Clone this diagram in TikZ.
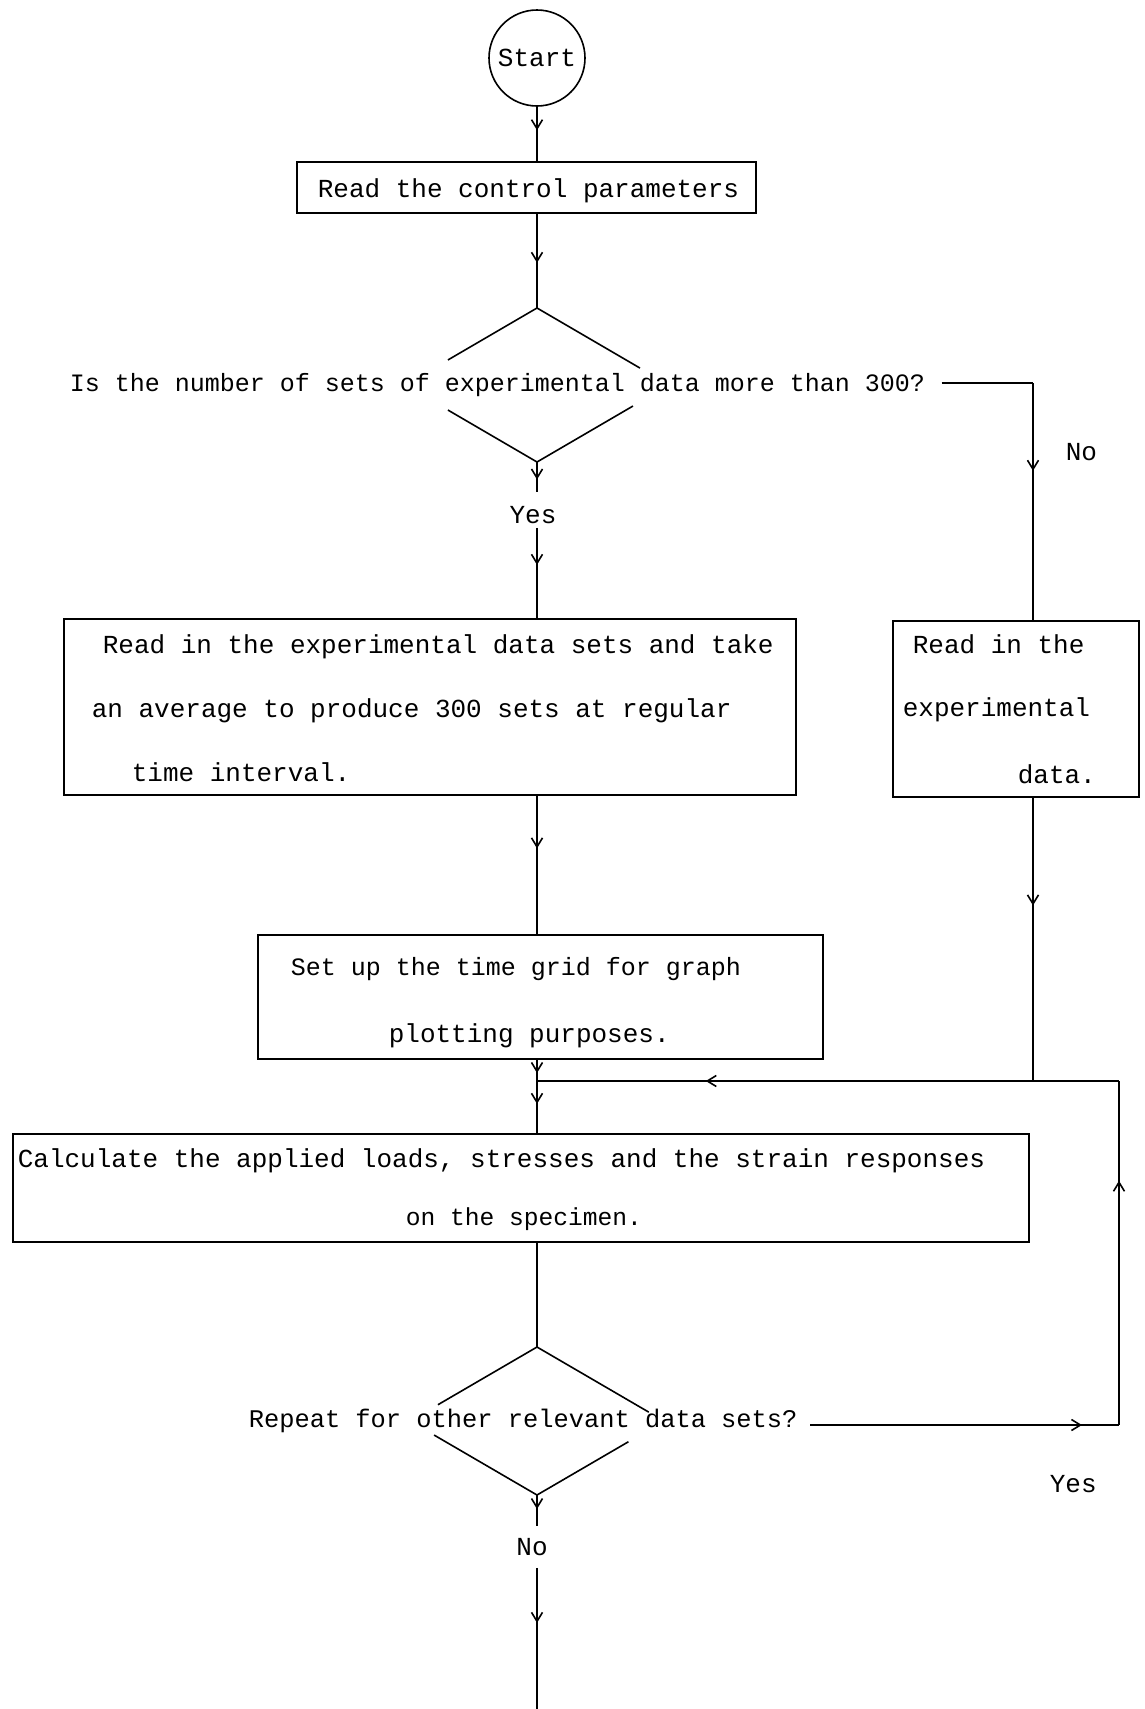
\documentclass[tikz,border=0pt]{standalone}
\usepackage{fontspec}
\setmonofont{Liberation Mono}
\usetikzlibrary{arrows.meta,decorations.markings,calc}

\tikzset{flowtip/.tip={Straight Barb[length=9pt,width=11pt]}}

\begin{document}
\begin{tikzpicture}[x=1pt,y=-1pt,line width=1.6pt,
  tfont/.style={font=\ttfamily\fontsize{#1}{31pt}\selectfont},
  tfont/.default=26pt,
  txt/.style={tfont=#1,inner sep=0pt,anchor=base west},
  txt/.default=26pt,
  procbox/.style={draw,rectangle,inner sep=0pt},
  answer/.style={tfont,inner sep=0pt,anchor=base},
  midarrow/.style={postaction={decorate,decoration={markings,
      mark=at position #1 with {\arrow{flowtip}}}}},
  midarrowtwo/.style 2 args={postaction={decorate,decoration={markings,
      mark=at position #1 with {\arrow{flowtip}},
      mark=at position #2 with {\arrow{flowtip}}}}}
]
\useasboundingbox (0,0) rectangle (1145,1709);
\fill[white] (0,0) rectangle (1145,1709);

% reference lines of the flow
\coordinate (axis)  at (537,0);
\coordinate (raxis) at (1033,0);
\coordinate (c1)    at (1033,383);
\coordinate (jr)    at (1033,1081);
\coordinate (jn)    at (537,1081);
\coordinate (lr1)   at (1119,1425);
\coordinate (lr2)   at (1119,1081);
\coordinate (endpt) at (537,1709);

% start terminal
\node[draw,circle,minimum size=96pt,inner sep=0pt,tfont] (start) at (537,58) {Start};

% process boxes
\node[procbox,minimum width=459pt,minimum height=51pt]  (b1) at (526.5,187.5) {};
\node[procbox,minimum width=732pt,minimum height=176pt] (b2) at (430,707) {};
\node[procbox,minimum width=246pt,minimum height=176pt] (b3) at (1016,709) {};
\node[procbox,minimum width=565pt,minimum height=124pt] (b4) at (540.5,997) {};
\node[procbox,minimum width=1016pt,minimum height=108pt] (b5) at (521,1188) {};

% box texts
\node[txt] (t1)  at (317,197)  {Read the control parameters};
\node[txt] (t2a) at (102,653)  {Read in the experimental data sets and take};
\node[txt] (t2b) at (91,717)   {an average to produce 300 sets at regular};
\node[txt] (t2c) at (131,781)  {time interval.};
\node[txt] (t3a) at (912,653)  {Read in the};
\node[txt] (t3b) at (902,716)  {experimental};
\node[txt] (t3c) at (1017,783) {data.};
\node[txt=25pt] (t4a) at (290,975)  {Set up the time grid for graph};
\node[txt] (t4b) at (388,1042) {plotting purposes.};
\node[txt] (t5a) at (17,1167)  {Calculate the applied loads, stresses and the strain responses};
\node[txt=24.6pt] (t5b) at (405,1225) {on the specimen.};

% decisions: broken diamonds with the question across them
\coordinate (d1n) at (537,308);
\coordinate (d1s) at (537,462);
\coordinate (d1w) at (405,385);
\coordinate (d1e) at (669,385);
\draw (d1n) -- ($(d1n)!0.675!(d1w)$);
\draw (d1n) -- ($(d1n)!0.78!(d1e)$);
\draw (d1s) -- ($(d1s)!0.675!(d1w)$);
\draw (d1s) -- ($(d1s)!0.727!(d1e)$);
\node[txt=25pt] (q1) at (69,391) {Is the number of sets of experimental data more than 300?};

\coordinate (d2n) at (537,1347);
\coordinate (d2s) at (537,1495);
\coordinate (d2w) at (410,1421);
\coordinate (d2e) at (664,1421);
\draw (d2n) -- ($(d2n)!0.78!(d2w)$);
\draw (d2n) -- ($(d2n)!0.88!(d2e)$);
\draw (d2s) -- ($(d2s)!0.81!(d2w)$);
\draw (d2s) -- ($(d2s)!0.72!(d2e)$);
\node[txt=25.4pt] (q2) at (248,1427) {Repeat for other relevant data sets?};

% branch labels
\node[answer,text height=30pt,text depth=4pt]  (yes1) at (533,523)  {Yes};
\node[txt] (no1)  at (1065,460)  {No};
\node[txt] (yes2) at (1049,1492) {Yes};
\node[answer,text height=28pt,text depth=12pt] (no2) at (532,1555) {No};

% connectors
\draw[midarrow=0.43] (start.south) -- (b1.north -| start.south);
\draw[midarrow=0.52] (b1.south -| axis) -- (d1n);
\draw[midarrow=0.58] (d1s) -- (yes1.north -| axis);
\draw[midarrow=0.41] (yes1.south -| axis) -- (b2.north -| axis);
\draw ($(q1.east |- c1)+(16,0)$) -- (c1);
\draw[midarrow=0.37] (c1) -- (b3.north -| c1);
\draw[midarrow=0.38] (b2.south -| axis) -- (b4.north -| axis);
\draw[midarrow=0.38] (b3.south -| raxis) -- (jr);
\draw[midarrowtwo={0.18}{0.6}] (b4.south -| axis) -- (b5.north -| axis);
\draw (b5.south -| axis) -- (d2n);
\draw[midarrow=0.88] ($(q2.east |- lr1)+(12,0)$) -- (lr1);
\draw[midarrow=0.71] (lr1) -- (lr2);
\draw[midarrow=0.71] (lr2) -- (jn);
\draw[midarrow=0.45] (d2s) -- (no2.north -| axis);
\draw[midarrow=0.39] (no2.south -| axis) -- (endpt);
\end{tikzpicture}
\end{document}
